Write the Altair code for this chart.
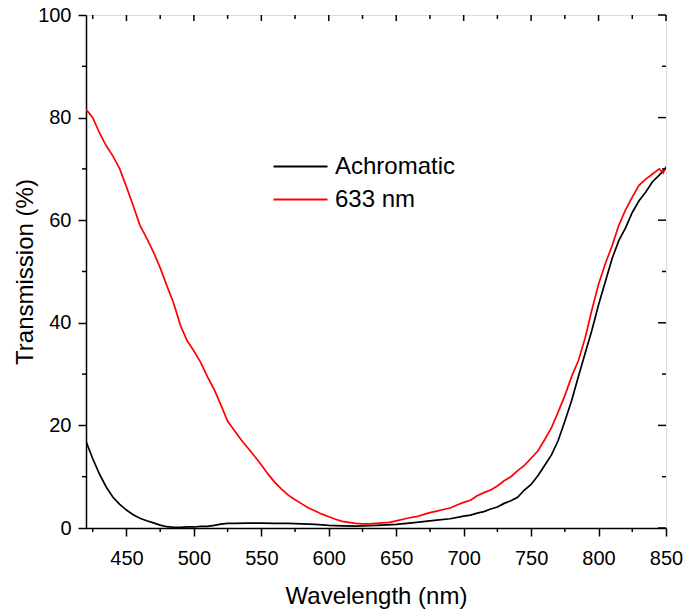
import altair as alt
import pandas as pd

series = ["Achromatic", "633 nm"]
colors = ["#000000", "#ff0000"]

wl_red = [420, 425, 430, 435, 440, 445, 450, 455, 460, 465, 470, 475, 480, 485, 490, 495,
          500, 505, 510, 515, 520, 525, 530, 535, 540, 545, 550, 555, 560, 565, 570, 575,
          580, 585, 590, 595, 600, 605, 610, 615, 620, 625, 630, 635, 640, 645, 650, 655,
          660, 665, 670, 675, 680, 685, 690, 695, 700, 705, 710, 715, 720, 725, 730, 735,
          740, 745, 750, 755, 760, 765, 770, 775, 780, 785, 790, 795, 800, 805, 810, 815,
          820, 825, 830, 835, 840, 845, 848, 850]
t_red = [81.6, 80.0, 77.0, 74.5, 72.5, 70.0, 66.5, 62.8, 59.0, 56.5, 53.8, 50.7, 47.2, 43.8, 39.5, 36.5,
         34.5, 32.3, 29.5, 27.0, 24.0, 20.8, 19.0, 17.2, 15.6, 14.0, 12.3, 10.5, 8.9, 7.6, 6.4, 5.5,
         4.7, 3.9, 3.3, 2.7, 2.2, 1.7, 1.3, 1.1, 0.9, 0.8, 0.8, 0.9, 1.0, 1.1, 1.4, 1.7,
         2.0, 2.2, 2.6, 3.0, 3.3, 3.6, 3.9, 4.5, 5.0, 5.4, 6.3, 6.9, 7.4, 8.2, 9.2, 10.0,
         11.2, 12.2, 13.6, 15.0, 17.2, 19.5, 22.6, 25.8, 29.5, 32.6, 37.0, 42.5, 47.5, 51.5, 55.0, 59.0,
         62.0, 64.5, 66.8, 68.0, 69.0, 70.0, 69.2, 70.5]

wl_black = [420, 425, 430, 435, 440, 445, 450, 455, 460, 465, 470, 475, 480, 485, 490, 495,
            500, 505, 510, 515, 520, 525, 530, 540, 550, 560, 570, 580, 590, 600, 610, 620,
            630, 640, 650, 660, 670, 680, 690, 700, 705, 710, 715, 720, 725, 730, 735, 740,
            745, 750, 755, 760, 765, 770, 775, 780, 785, 790, 795, 800, 805, 810, 815, 820,
            825, 830, 835, 840, 845, 850]
t_black = [16.9, 13.5, 10.5, 8.0, 6.0, 4.6, 3.5, 2.6, 1.9, 1.4, 1.0, 0.55, 0.25, 0.15, 0.15, 0.2,
           0.2, 0.3, 0.3, 0.5, 0.75, 0.9, 0.9, 0.95, 0.95, 0.9, 0.9, 0.8, 0.7, 0.5, 0.4, 0.35,
           0.45, 0.55, 0.7, 0.95, 1.25, 1.55, 1.8, 2.3, 2.5, 2.9, 3.2, 3.7, 4.1, 4.8, 5.3, 6.0,
           7.4, 8.5, 10.2, 12.2, 14.2, 17.0, 20.8, 24.8, 29.5, 34.0, 38.5, 43.5, 48.0, 52.5, 56.0, 58.5,
           61.5, 63.8, 65.5, 67.5, 68.8, 70.2]

x_major = [450, 500, 550, 600, 650, 700, 750, 800, 850]
x_minor = [425, 475, 525, 575, 625, 675, 725, 775, 825]
y_major = [0, 20, 40, 60, 80, 100]
y_minor = [10, 30, 50, 70, 90]

W, H = 580, 513
FONT = "Liberation Sans"

df = pd.concat([
    pd.DataFrame({"wl": wl_black, "t": t_black, "series": series[0]}),
    pd.DataFrame({"wl": wl_red, "t": t_red, "series": series[1]}),
])
dxmaj = pd.DataFrame({"v": x_major})
dxmin = pd.DataFrame({"v": x_minor})
dymaj = pd.DataFrame({"v": y_major})
dymin = pd.DataFrame({"v": y_minor})

xs = alt.Scale(domain=[420, 850], nice=False, zero=False)
ys = alt.Scale(domain=[0, 100], nice=False, zero=False)

x_axis = alt.Axis(values=x_major, title="Wavelength (nm)", format="d", grid=False,
                  labelFont=FONT, labelFontSize=20, labelColor="black", labelPadding=12,
                  labelFlush=False, labelOverlap=False,
                  tickSize=8, tickWidth=1.5, tickColor="black",
                  domainColor="black", domainWidth=1.5,
                  titleFont=FONT, titleFontSize=24, titleFontWeight="normal", titleColor="black",
                  titleBaseline="alphabetic", titleY=75)
y_axis = alt.Axis(values=y_major, title="Transmission (%)", format="d", grid=False,
                  labelFont=FONT, labelFontSize=20, labelColor="black", labelPadding=7,
                  labelFlush=False, labelOverlap=False,
                  tickSize=8, tickWidth=1.5, tickColor="black",
                  domainColor="black", domainWidth=1.5,
                  titleFont=FONT, titleFontSize=24, titleFontWeight="normal", titleColor="black",
                  titleAngle=270, titleBaseline="alphabetic", titleAlign="center",
                  titleX=-54, titleY=H / 2)

# custom horizontal line symbol: half-length 2 units, scaled by sqrt(size)/2 = 13.5 -> 54 px long
lines = alt.Chart(df).mark_line(strokeWidth=1.7, clip=True).encode(
    x=alt.X("wl:Q", scale=xs, axis=x_axis),
    y=alt.Y("t:Q", scale=ys, axis=y_axis),
    color=alt.Color("series:N", scale=alt.Scale(domain=series, range=colors),
                    legend=alt.Legend(title=None, orient="none", legendX=200, legendY=137,
                                      symbolType="M-2,0L2,0", symbolSize=729, symbolStrokeWidth=2,
                                      labelFont=FONT, labelFontSize=24, labelColor="black",
                                      labelOffset=20, rowPadding=6, padding=0)),
)

rule = dict(color="black", strokeWidth=1.5)
bottom_minor = alt.Chart(dxmin).mark_rule(**rule).encode(
    x=alt.X("v:Q", scale=xs, axis=x_axis), y=alt.value(H), y2=alt.value(H + 4))
left_minor = alt.Chart(dymin).mark_rule(**rule).encode(
    y=alt.Y("v:Q", scale=ys, axis=y_axis), x=alt.value(0), x2=alt.value(-4))
top_major = alt.Chart(dxmaj).mark_rule(**rule).encode(
    x=alt.X("v:Q", scale=xs, axis=x_axis), y=alt.value(0), y2=alt.value(6))
top_minor = alt.Chart(dxmin).mark_rule(**rule).encode(
    x=alt.X("v:Q", scale=xs, axis=x_axis), y=alt.value(0), y2=alt.value(4))
right_major = alt.Chart(dymaj).mark_rule(**rule).encode(
    y=alt.Y("v:Q", scale=ys, axis=y_axis), x=alt.value(W), x2=alt.value(W - 8))
right_minor = alt.Chart(dymin).mark_rule(**rule).encode(
    y=alt.Y("v:Q", scale=ys, axis=y_axis), x=alt.value(W), x2=alt.value(W - 4))

chart = alt.layer(lines, bottom_minor, left_minor, top_major, top_minor, right_major, right_minor).properties(
    width=W, height=H,
    padding={"left": 86, "top": 15, "right": 19, "bottom": 85},
    autosize=alt.AutoSizeParams(type="none"),
).configure_view(stroke="black", strokeWidth=1.5).configure(background="white")

chart.save("out.html", embed_options={"renderer": "svg", "actions": False})
